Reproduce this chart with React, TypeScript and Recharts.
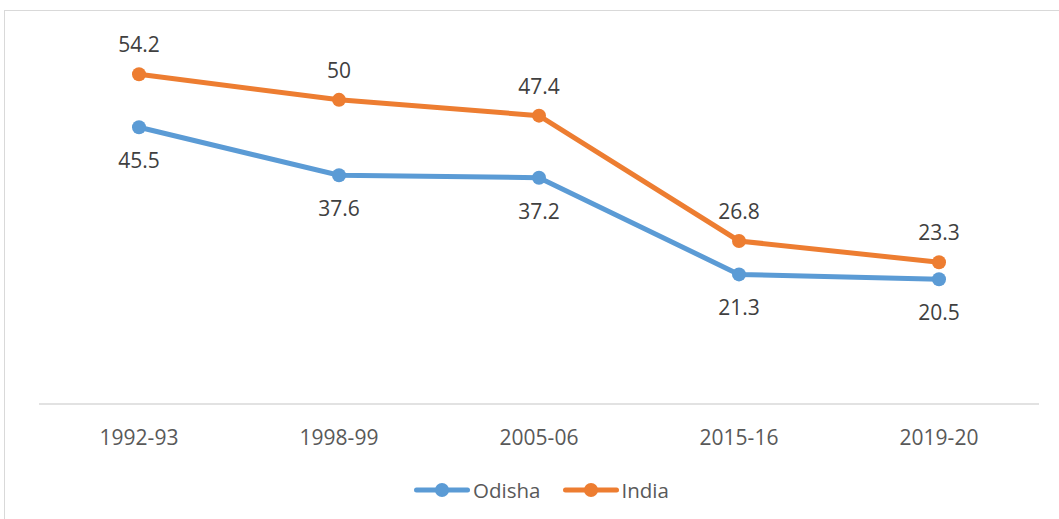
import React from 'react';
import { LineChart, Line, XAxis, YAxis, LabelList, Legend } from 'recharts';

const years = ['1992-93', '1998-99', '2005-06', '2015-16', '2019-20'];
const odisha = [45.5, 37.6, 37.2, 21.3, 20.5];
const india = [54.2, 50, 47.4, 26.8, 23.3];
const seriesNames = ['Odisha', 'India'];
const colors = ['#5B9BD5', '#ED7D31'];

const data = years.map((y, i) => ({ year: y, Odisha: odisha[i], India: india[i] }));

const FONT = '"Open Sans", "Liberation Sans", sans-serif';

const renderLegend = () => (
  <div style={{ display: 'flex', justifyContent: 'center', alignItems: 'center', fontFamily: FONT, fontSize: 20.5, color: '#595959' }}>
    {seriesNames.map((n, i) => (
      <div key={n} style={{ display: 'flex', alignItems: 'center', marginRight: i === 0 ? 22 : 0 }}>
        <svg width={56} height={16} style={{ marginRight: 3 }}>
          <line x1={2.5} y1={8} x2={53.5} y2={8} stroke={colors[i]} strokeWidth={5} strokeLinecap="round" />
          <circle cx={28} cy={8} r={7} fill={colors[i]} />
        </svg>
        <span>{n}</span>
      </div>
    ))}
  </div>
);

export default function App() {
  return (
    <div style={{ position: 'absolute', left: 0, top: 0, width: 1059, height: 519, background: '#fff', overflow: 'hidden' }}>
      <div style={{ position: 'absolute', left: 4, top: 10, width: 1070, height: 530, border: '1.5px solid #d9d9d9', boxSizing: 'border-box' }} />
      <div style={{ position: 'absolute', left: 0, top: 0 }}>
        <LineChart width={1059} height={519} data={data} margin={{ top: 39, right: 20, left: 39, bottom: 85 }}>
          <YAxis hide domain={[0, 60]} />
          <XAxis
            dataKey="year"
            height={30}
            padding={{ left: 100, right: 100 }}
            axisLine={{ stroke: '#d9d9d9', strokeWidth: 1.5 }}
            tickLine={false}
            tickMargin={20}
            tick={{ fill: '#595959', fontSize: 21, fontFamily: FONT }}
          />
          <Legend verticalAlign="middle" align="center" content={renderLegend} wrapperStyle={{ position: 'absolute', top: 476, left: 12, width: 1059 }} />
          <Line type="linear" dataKey="Odisha" stroke={colors[0]} strokeWidth={5} dot={{ r: 7, fill: colors[0], stroke: colors[0], strokeWidth: 0 }} isAnimationActive={false}>
            <LabelList dataKey="Odisha" position="bottom" offset={26} fill="#404040" fontSize={21} fontFamily={FONT} />
          </Line>
          <Line type="linear" dataKey="India" stroke={colors[1]} strokeWidth={5} dot={{ r: 7, fill: colors[1], stroke: colors[1], strokeWidth: 0 }} isAnimationActive={false}>
            <LabelList dataKey="India" position="top" offset={22} fill="#404040" fontSize={21} fontFamily={FONT} />
          </Line>
        </LineChart>
      </div>
    </div>
  );
}
